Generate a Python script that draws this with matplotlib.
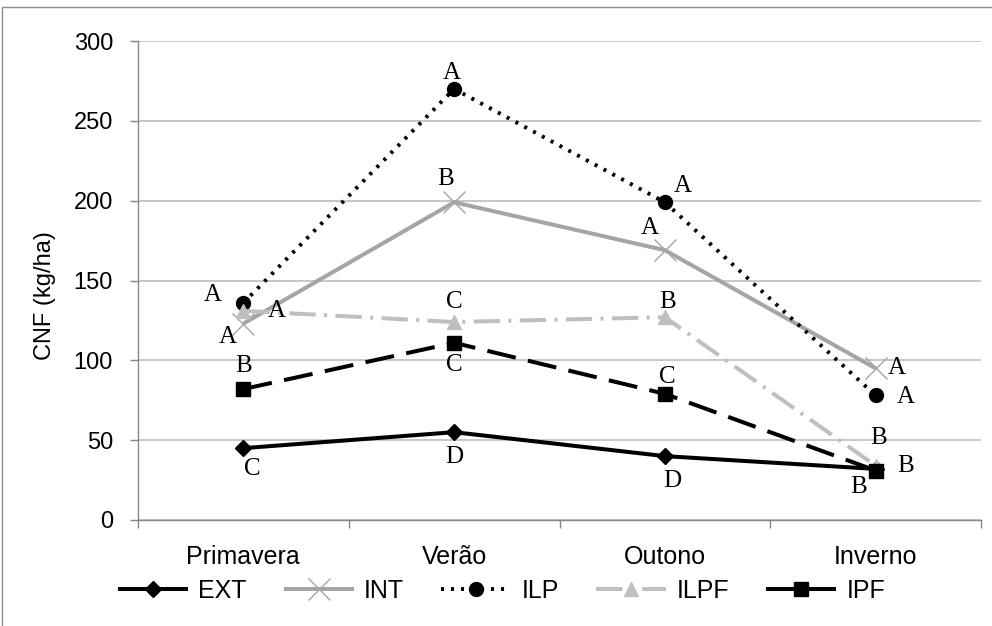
import matplotlib
matplotlib.use("Agg")
import matplotlib.pyplot as plt
from matplotlib.patches import Rectangle

plt.rcParams["font.family"] = ["Liberation Sans", "DejaVu Sans"]
plt.rcParams["lines.scale_dashes"] = False

# --- data -------------------------------------------------------------
seasons = ["Primavera", "Verão", "Outono", "Inverno"]
series_names = ["EXT", "INT", "ILP", "ILPF", "IPF"]

ext = [45, 55, 40, 32]
int_ = [123, 199, 169, 95]
ilp = [136, 270, 199, 78]
ilpf = [131, 124, 127, 34]
ipf = [82, 111, 79, 31]

# letters from the mean comparison test
ext_letters = ["C", "D", "D", "B"]
int_letters = ["A", "B", "A", "A"]
ilp_letters = ["A", "A", "A", "A"]
ilpf_letters = ["A", "C", "B", "B"]
ipf_letters = ["B", "C", "C", "B"]

values = [ext, int_, ilp, ilpf, ipf]
letters = [ext_letters, int_letters, ilp_letters, ilpf_letters, ipf_letters]

# --- styles -----------------------------------------------------------
styles = [
    dict(color="black", lw=2.9, ls="-", marker="D", ms=8, mfc="black", mec="black"),
    dict(color="#A5A5A5", lw=2.9, ls="-", marker="x", ms=16, mew=1.0,
         mfc="#A5A5A5", mec="#A5A5A5"),
    dict(color="black", lw=2.8, ls=(0, (2.2, 5.0)), marker="o", ms=10,
         mfc="black", mec="black"),
    dict(color="#BFBFBF", lw=2.9, ls=(0, (19, 6, 2.2, 6)), marker="^", ms=10,
         mfc="#BFBFBF", mec="#BFBFBF"),
    dict(color="black", lw=2.9, ls=(0, (21, 9)), marker="s", ms=10,
         mfc="black", mec="black"),
]

# label offsets (points) per series and season
label_offsets = [
    [(6.5, -15), (0, -18), (5, -18), (-12, -13)],
    [(-11, -10), (-6, 17), (-11, 16), (15, 0)],
    [(-22, 6), (-1.5, 11.5), (13, 11.5), (22, -1)],
    [(24, 0), (0, 14.5), (2, 11), (2, 20)],
    [(0, 16.5), (0, -16), (1.5, 12), (21.5, 3)],
]

fig = plt.figure(figsize=(9.92, 6.26), dpi=100)
ax = fig.add_axes([138 / 992, 1 - 520 / 626, (981 - 138) / 992, (520 - 41) / 626])

x = list(range(len(seasons)))
for name, vals, st in zip(series_names, values, styles):
    ax.plot(x, vals, label=name, solid_capstyle="butt", dash_capstyle="butt", **st)

for vals, labs, offs in zip(values, letters, label_offsets):
    for xi, v, lab, off in zip(x, vals, labs, offs):
        ax.annotate(lab, (xi, v), xytext=off, textcoords="offset points",
                    ha="center", va="center", fontsize=18,
                    family=["Liberation Serif", "DejaVu Serif"], color="black")

ax.set_xlim(-0.5, 3.5)
ax.set_ylim(0, 300)
ax.set_yticks(range(0, 301, 50))
ax.set_xticks(x)
ax.set_xticklabels(seasons)
ax.set_xticks([-0.5, 0.5, 1.5, 2.5, 3.5], minor=True)

ax.grid(axis="y", color="#BEBEBE", lw=1.2)
ax.set_axisbelow(True)
for s in ["top", "right"]:
    ax.spines[s].set_visible(False)
for s in ["left", "bottom"]:
    ax.spines[s].set_color("#868686")
    ax.spines[s].set_linewidth(1.0)

ax.tick_params(axis="y", which="major", length=6, width=1.0, color="#868686",
               labelsize=17, pad=12)
ax.tick_params(axis="x", which="major", length=0, labelsize=18, pad=18)
ax.tick_params(axis="x", which="minor", length=6, width=1.0, color="#868686")

fig.text(45 / 992, 1 - 296 / 626, "CNF (kg/ha)", rotation=90, ha="center",
         va="center", fontsize=17)

fig.legend(loc="center", bbox_to_anchor=(501.5 / 992, 1 - 591 / 626), ncol=5,
           frameon=False, fontsize=18, handlelength=2.8, handletextpad=0.4,
           columnspacing=1.5)

fig.patches.append(Rectangle((2 / 992, -0.05), 1.2, 1 - 7 / 626 + 0.05,
                             transform=fig.transFigure, fill=False,
                             edgecolor="#8C8C8C", lw=1.0))

fig.savefig("out.png", dpi=100)
